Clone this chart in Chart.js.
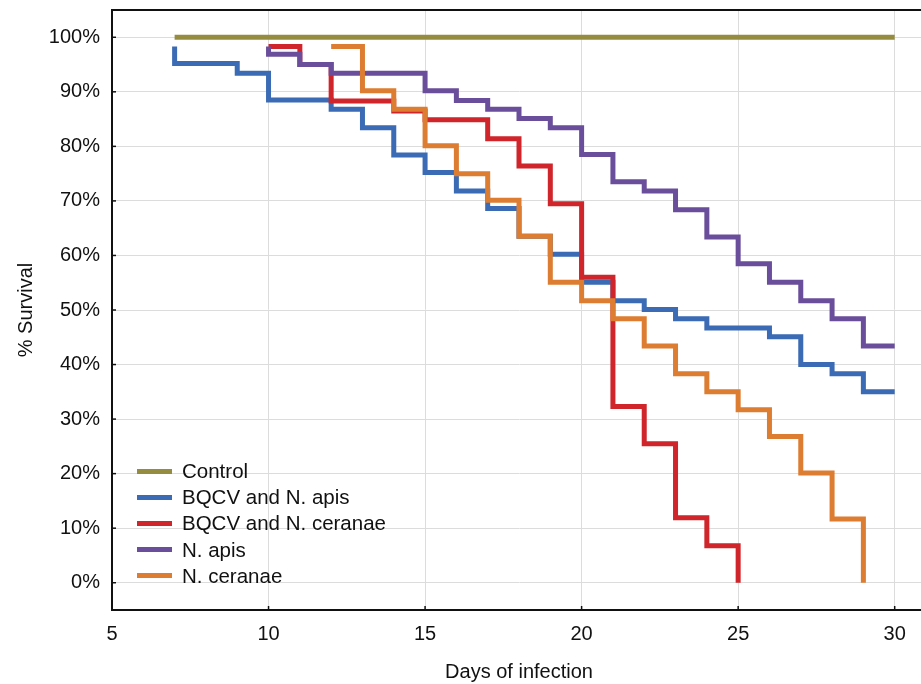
<!DOCTYPE html>
<html>
<head>
<meta charset="utf-8">
<script src="https://cdn.jsdelivr.net/npm/chart.js@4.4.1/dist/chart.umd.min.js"></script>
<style>
    html, body { margin: 0; padding: 0; overflow: hidden; background: #fff; }
    #wrap { position: relative; width: 926px; height: 684px; }
    #legend { position: absolute; left: 137px; top: 458px; font-family: "Liberation Sans", Arial, sans-serif; font-size: 20.5px; color: #111; }
    .row { height: 26.2px; display: flex; align-items: center; }
    .swatch { width: 35px; height: 5px; margin-right: 10px; }
</style>
</head>
<body>
<div id="wrap">
    <canvas id="survivalChart"></canvas>
    <div id="legend"></div>
</div>
<script>
// survival curves (day, % surviving from that day on)
var controlDays = [7, 30];
var controlSurv = [100, 100];

var bqcvApisDays = [7, 7, 9, 10, 12, 13, 14, 15, 16, 17, 18, 19, 20, 21, 22, 23, 24, 26, 27, 28, 29, 30];
var bqcvApisSurv = [98.3, 95.2, 93.4, 88.5, 86.8, 83.4, 78.4, 75.2, 71.8, 68.6, 63.5, 60.2, 55.1, 51.7, 50.1, 48.4, 46.7, 45.1, 40.0, 38.3, 35.0, 35.0];

var bqcvCeranaeDays = [10, 11, 12, 14, 15, 17, 18, 19, 20, 21, 22, 23, 24, 25];
var bqcvCeranaeSurv = [98.3, 95.0, 88.3, 86.5, 84.9, 81.4, 76.4, 69.5, 56.0, 32.3, 25.5, 11.9, 6.8, 0];

var apisDays = [10, 10, 11, 12, 15, 16, 17, 18, 19, 20, 21, 22, 23, 24, 25, 26, 27, 28, 29, 30];
var apisSurv = [98.3, 96.9, 95.0, 93.4, 90.2, 88.4, 86.8, 85.1, 83.4, 78.5, 73.5, 71.8, 68.4, 63.4, 58.5, 55.1, 51.7, 48.4, 43.4, 43.4];

var ceranaeDays = [12, 13, 14, 15, 16, 17, 18, 19, 20, 21, 22, 23, 24, 25, 26, 27, 28, 29];
var ceranaeSurv = [98.3, 90.2, 86.8, 80.1, 75.0, 70.1, 63.5, 55.1, 51.7, 48.4, 43.4, 38.3, 35.0, 31.7, 26.8, 20.1, 11.7, 0];

var xTicks = [5, 10, 15, 20, 25, 30];
var yTicks = [0, 10, 20, 30, 40, 50, 60, 70, 80, 90, 100];

var series = [
    { label: "Control", days: controlDays, surv: controlSurv, color: "#968c40" },
    { label: "BQCV and N. apis", days: bqcvApisDays, surv: bqcvApisSurv, color: "#3a6bb4" },
    { label: "BQCV and N. ceranae", days: bqcvCeranaeDays, surv: bqcvCeranaeSurv, color: "#d0252b" },
    { label: "N. apis", days: apisDays, surv: apisSurv, color: "#6b4e9b" },
    { label: "N. ceranae", days: ceranaeDays, surv: ceranaeSurv, color: "#dd7d32" }
];

function toPoints(days, surv) {
    return days.map(function (d, i) { return { x: d, y: surv[i] }; });
}

// later series are painted on top, like the original
var datasets = series.map(function (s, i) {
    return {
        label: s.label,
        data: toPoints(s.days, s.surv),
        borderColor: s.color,
        backgroundColor: s.color,
        borderWidth: 5,
        stepped: true,
        pointRadius: 0,
        fill: false,
        order: series.length - i
    };
});

// legend sits inside the plot, so build it by hand
var legend = document.getElementById("legend");
series.forEach(function (s) {
    var row = document.createElement("div");
    row.className = "row";
    row.innerHTML = '<span class="swatch" style="background:' + s.color + '"></span><span>' + s.label + '</span>';
    legend.appendChild(row);
});

// top frame line and little inward tick marks
var framePlugin = {
    id: "frame",
    afterDraw: function (chart) {
        var ctx = chart.ctx;
        var area = chart.chartArea;
        ctx.save();
        ctx.strokeStyle = "#111";
        ctx.lineWidth = 2;
        ctx.beginPath();
        ctx.moveTo(area.left, area.top);
        ctx.lineTo(area.right, area.top);
        ctx.stroke();
        ctx.lineWidth = 1.5;
        chart.scales.y.ticks.forEach(function (t) {
            var y = chart.scales.y.getPixelForValue(t.value);
            ctx.beginPath();
            ctx.moveTo(area.left, y);
            ctx.lineTo(area.left + 4, y);
            ctx.stroke();
        });
        chart.scales.x.ticks.forEach(function (t) {
            var x = chart.scales.x.getPixelForValue(t.value);
            ctx.beginPath();
            ctx.moveTo(x, area.bottom);
            ctx.lineTo(x, area.bottom - 4);
            ctx.stroke();
        });
        ctx.restore();
    }
};

var ctx = document.getElementById("survivalChart").getContext("2d");
new Chart(ctx, {
    type: "line",
    data: { datasets: datasets },
    plugins: [framePlugin],
    options: {
        responsive: true,
        maintainAspectRatio: false,
        animation: false,
        layout: { padding: { top: 10, right: 0, left: 0, bottom: 0 } },
        plugins: {
            legend: { display: false },
            tooltip: { enabled: false }
        },
        scales: {
            x: {
                type: "linear",
                min: 5,
                max: 31,
                afterFit: function (scale) {
                    scale.height = 74;
                    scale.paddingLeft = 0;
                    scale.paddingRight = 0;
                },
                afterBuildTicks: function (scale) {
                    scale.ticks = xTicks.map(function (v) { return { value: v }; });
                },
                grid: { color: "#dcdcdc", lineWidth: 1, drawTicks: false },
                border: { color: "#111", width: 2 },
                ticks: {
                    padding: 12,
                    color: "#111",
                    font: { family: "Liberation Sans, Arial, sans-serif", size: 20 }
                },
                title: {
                    display: true,
                    text: "Days of infection",
                    color: "#111",
                    padding: 0,
                    font: { family: "Liberation Sans, Arial, sans-serif", size: 20 }
                }
            },
            y: {
                min: -5,
                max: 105,
                afterFit: function (scale) {
                    scale.width = 112;
                    scale.paddingTop = 0;
                    scale.paddingBottom = 0;
                },
                afterBuildTicks: function (scale) {
                    scale.ticks = yTicks.map(function (v) { return { value: v }; });
                },
                grid: { color: "#dcdcdc", lineWidth: 1, drawTicks: false },
                border: { color: "#111", width: 2 },
                ticks: {
                    padding: 12,
                    color: "#111",
                    font: { family: "Liberation Sans, Arial, sans-serif", size: 20 },
                    callback: function (v) { return v + "%"; }
                },
                title: {
                    display: true,
                    text: "% Survival",
                    color: "#111",
                    padding: { top: 14, bottom: 0 },
                    font: { family: "Liberation Sans, Arial, sans-serif", size: 20 }
                }
            }
        }
    }
});
</script>
</body>
</html>
